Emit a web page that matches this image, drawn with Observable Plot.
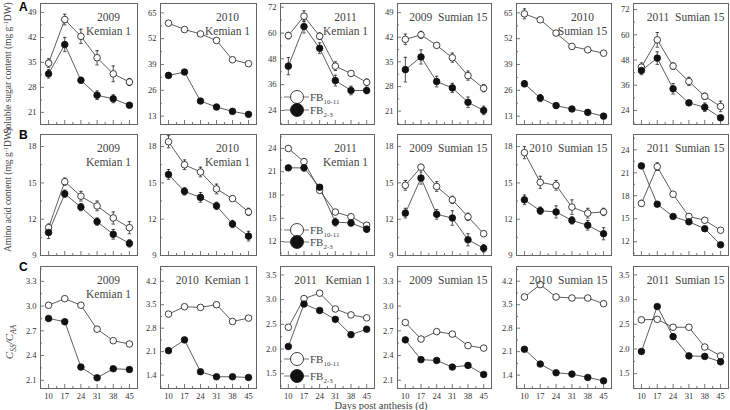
<!DOCTYPE html>
<html>
<head>
<meta charset="utf-8">
<script src="https://cdn.jsdelivr.net/npm/d3@7"></script>
<script src="https://cdn.jsdelivr.net/npm/@observablehq/plot@0.6"></script>
<style>
  html, body { margin: 0; padding: 0; background: #fff; }
  #chart { position: relative; width: 730px; height: 410px; overflow: hidden; background: #fff; }
</style>
</head>
<body>
<div id="chart"></div>
<script>
// ---------------- data ----------------
const days = [10, 17, 24, 31, 38, 45];

// A: soluble sugar content (mg g-1 DW)
const sugarFB1011 = [
  [34.8, 47.0, 42.3, 36.3, 31.8, 29.5],
  [59.8, 56.6, 54.4, 51.1, 41.4, 39.4],
  [58.8, 67.8, 58.5, 44.6, 41.2, 37.1],
  [41.4, 42.7, 39.7, 36.2, 31.1, 27.5],
  [64.5, 61.5, 54.8, 48.1, 46.4, 44.7],
  [44.6, 57.6, 45.1, 37.8, 30.7, 25.9]
];
const sugarFB23 = [
  [31.8, 40.0, 30.0, 25.8, 24.8, 23.0],
  [33.5, 35.2, 20.6, 17.6, 15.4, 13.9],
  [44.6, 63.0, 52.9, 37.9, 33.3, 33.3],
  [32.8, 36.4, 29.4, 27.6, 23.5, 21.2],
  [29.3, 22.1, 18.3, 16.6, 14.9, 13.0],
  [43.0, 48.9, 34.3, 27.6, 25.5, 20.5]
];
const sugarErr1011 = [
  [1.2, 1.5, 2.0, 2.0, 2.2, 1.0],
  [1.0, 0.8, 1.0, 1.0, 1.0, 1.0],
  [1.5, 2.5, 1.5, 2.0, 1.0, 1.5],
  [1.5, 1.0, 0.5, 1.3, 1.3, 1.0],
  [2.5, 1.0, 1.0, 0.8, 0.8, 0.8],
  [2.0, 3.5, 1.5, 2.0, 1.5, 2.5]
];
const sugarErr23 = [
  [1.2, 2.0, 0.8, 1.2, 1.1, 0.7],
  [1.3, 0.8, 1.0, 1.3, 0.8, 0.9],
  [4.0, 3.0, 2.5, 2.5, 2.0, 1.5],
  [3.5, 2.0, 1.5, 1.3, 1.5, 1.2],
  [1.5, 1.8, 1.3, 1.0, 1.0, 1.0],
  [2.0, 3.0, 2.5, 1.0, 2.0, 1.0]
];

// B: amino acid content (mg g-1 DW)
const aminoFB1011 = [
  [11.3, 15.1, 13.9, 13.1, 12.1, 11.3],
  [18.4, 16.5, 15.9, 14.5, 13.7, 12.6],
  [24.0, 22.3, 18.6, 15.8, 15.2, 14.1],
  [14.8, 16.3, 14.7, 13.6, 12.2, 10.8],
  [17.5, 15.05, 14.8, 13.0, 12.5, 12.6],
  [17.0, 21.8, 18.2, 15.3, 14.8, 13.5]
];
const aminoFB23 = [
  [10.9, 14.1, 13.0, 11.8, 10.75, 10.0],
  [15.7, 14.3, 13.8, 13.1, 11.6, 10.6],
  [21.5, 21.5, 19.0, 14.5, 14.4, 13.6],
  [12.5, 15.4, 12.4, 12.1, 10.3, 9.6],
  [13.6, 12.7, 12.6, 11.9, 11.5, 10.8],
  [21.9, 16.9, 15.3, 14.6, 13.7, 11.6]
];
const aminoErr1011 = [
  [0.3, 0.3, 0.4, 0.4, 0.5, 0.5],
  [0.5, 0.4, 0.4, 0.4, 0.2, 0.3],
  [0.3, 0.4, 0.3, 0.3, 0.3, 0.3],
  [0.4, 0.2, 0.4, 0.3, 0.3, 0.2],
  [0.5, 0.5, 0.4, 0.6, 0.4, 0.3],
  [0.4, 0.5, 0.2, 0.3, 0.3, 0.2]
];
const aminoErr23 = [
  [0.5, 0.3, 0.3, 0.3, 0.4, 0.3],
  [0.4, 0.3, 0.4, 0.3, 0.3, 0.4],
  [0.2, 0.4, 0.3, 0.5, 0.4, 0.4],
  [0.4, 0.5, 0.4, 0.6, 0.5, 0.3],
  [0.4, 0.3, 0.5, 0.3, 0.4, 0.5],
  [0.3, 0.3, 0.2, 0.3, 0.3, 0.2]
];

// C: Css/Caa ratio
const ratioFB1011 = [
  [3.01, 3.09, 3.01, 2.72, 2.58, 2.54],
  [3.22, 3.44, 3.42, 3.50, 3.00, 3.10],
  [2.44, 3.02, 3.13, 2.81, 2.69, 2.63],
  [2.80, 2.60, 2.69, 2.66, 2.52, 2.49],
  [3.73, 4.10, 3.73, 3.70, 3.70, 3.53],
  [2.59, 2.60, 2.44, 2.44, 2.04, 1.86]
];
const ratioFB23 = [
  [2.85, 2.81, 2.26, 2.13, 2.24, 2.23],
  [2.13, 2.45, 1.50, 1.35, 1.35, 1.33],
  [2.05, 2.91, 2.78, 2.60, 2.29, 2.40],
  [2.59, 2.35, 2.34, 2.26, 2.28, 2.17],
  [2.17, 1.73, 1.47, 1.43, 1.33, 1.23],
  [1.95, 2.86, 2.25, 1.86, 1.85, 1.74]
];

// axis tick labels
const yTicksA = [[21,28,35,42,49],[13,26,39,52,65],[24,36,48,60,72],[21,28,35,42,49],[13,26,39,52,65],[24,36,48,60,72]];
const yTicksB = [[9,12,15,18],[9,12,15,18],[12,15,18,21,24],[9,12,15,18],[9,12,15,18],[12,15,18,21,24]];
const yTicksC = [[2.1,2.4,2.7,3.0,3.3],[1.4,2.1,2.8,3.5,4.2],[1.5,2.0,2.5,3.0,3.5],[2.1,2.4,2.7,3.0,3.3],[1.4,2.1,2.8,3.5,4.2],[1.5,2.0,2.5,3.0,3.5]];

const titlesA = ["2009\nKemian 1","2010\nKemian 1","2011\nKemian 1","2009  Sumian 15","2010\nSumian 15","2011  Sumian 15"];
const titlesB = ["2009\nKemian 1","2010\nKemian 1","2011\nKemian 1","2009  Sumian 15","2010  Sumian 15","2011  Sumian 15"];
const titlesC = ["2009\nKemian 1","2010  Kemian 1","2011   Kemian 1","2009  Sumian 15","2010  Sumian 15","2011  Sumian 15"];

// ---------------- layout ----------------
const colX = [40, 160, 280, 397, 516, 633];
const colW = [97, 96, 94, 94, 95, 95];
const rowY = [3, 134, 266];
const rowH = [121, 121, 122];
const xDomain = [6.5, 48.5];
const yDomainsA = [[17.6,51.5],[8.8,69.7],[17.5,73.7],[17.2,51.6],[8.8,69.7],[17.3,74.9]];
const yDomainsB = [[9,19],[9,19],[10.2,25.8],[9,19],[9,19],[10.2,26]];
const yDomainsC = [[2.0,3.48],[1.0,4.64],[1.2,3.67],[2.0,3.48],[1.0,4.64],[1.2,3.67]];

const rows = [
  {open: sugarFB1011, filled: sugarFB23, eo: sugarErr1011, ef: sugarErr23, ticks: yTicksA, dom: yDomainsA, titles: titlesA, fmt: d3.format("d")},
  {open: aminoFB1011, filled: aminoFB23, eo: aminoErr1011, ef: aminoErr23, ticks: yTicksB, dom: yDomainsB, titles: titlesB, fmt: d3.format("d")},
  {open: ratioFB1011, filled: ratioFB23, eo: null, ef: null, ticks: yTicksC, dom: yDomainsC, titles: titlesC, fmt: d3.format(".1f")}
];

const container = document.getElementById("chart");
const serif = "'Liberation Serif', 'Times New Roman', serif";

function minorTicks(ticks, dom) {
  const step = ticks[1] - ticks[0];
  const out = [];
  for (let v = ticks[0] - step / 2; v <= dom[1]; v += step) if (v >= dom[0]) out.push(v);
  return out;
}
const xMinor = days.slice(0, -1).map(d => d + 3.5);

rows.forEach((R, r) => {
  for (let c = 0; c < 6; c++) {
    const fw = colW[c], fh = rowH[r];
    const ml = 30, mr = 4, mt = 4, mb = r === 2 ? 24 : 4;
    const openData = days.map((t, i) => ({t, v: R.open[c][i], e: R.eo ? R.eo[c][i] : 0}));
    const fillData = days.map((t, i) => ({t, v: R.filled[c][i], e: R.ef ? R.ef[c][i] : 0}));
    const title = R.titles[c];
    const two = title.includes("\n");
    const errMarks = (data) => R.eo ? [
      Plot.ruleX(data, {x: "t", y1: d => d.v - d.e, y2: d => d.v + d.e, stroke: "#222", strokeWidth: 0.8}),
      Plot.link(data, {x1: d => d.t - 0.75, x2: d => d.t + 0.75, y1: d => d.v + d.e, y2: d => d.v + d.e, stroke: "#222", strokeWidth: 0.8}),
      Plot.link(data, {x1: d => d.t - 0.75, x2: d => d.t + 0.75, y1: d => d.v - d.e, y2: d => d.v - d.e, stroke: "#222", strokeWidth: 0.8})
    ] : [];
    const plot = Plot.plot({
      width: fw + ml + mr,
      height: fh + mt + mb,
      marginLeft: ml, marginRight: mr, marginTop: mt, marginBottom: mb,
      style: {background: "transparent", overflow: "visible", fontFamily: serif, fontSize: "8.5px", color: "#333"},
      x: {domain: xDomain, ticks: days, tickSize: 0, tickPadding: 4, label: null, axis: r === 2 ? "bottom" : null},
      y: {domain: R.dom[c], ticks: R.ticks[c], tickSize: 0, tickPadding: 4, label: null, tickFormat: R.fmt},
      marks: [
        Plot.tickX(days, {x: d => d, insetTop: fh - 4, stroke: "#555", strokeWidth: 0.8}),
        Plot.tickX(xMinor, {x: d => d, insetTop: fh - 2, stroke: "#555", strokeWidth: 0.8}),
        Plot.tickY(R.ticks[c], {y: d => d, insetRight: fw - 4, stroke: "#555", strokeWidth: 0.8}),
        Plot.tickY(minorTicks(R.ticks[c], R.dom[c]), {y: d => d, insetRight: fw - 2, stroke: "#555", strokeWidth: 0.8}),
        Plot.frame({stroke: "#666", strokeWidth: 1}),
        ...errMarks(openData),
        ...errMarks(fillData),
        Plot.line(openData, {x: "t", y: "v", stroke: "#333", strokeWidth: 0.8}),
        Plot.line(fillData, {x: "t", y: "v", stroke: "#333", strokeWidth: 0.8}),
        Plot.dot(openData, {x: "t", y: "v", r: 3.3, fill: "white", stroke: "#111", strokeWidth: 0.8}),
        Plot.dot(fillData, {x: "t", y: "v", r: 3.3, fill: "#111", stroke: "#111", strokeWidth: 0.8}),
        Plot.text([title], {
          frameAnchor: "top-right",
          dx: two ? -29 : (r === 2 && c === 1 ? -7 : -4),
          dy: 8,
          textAnchor: two ? "middle" : "end",
          lineAnchor: "top",
          lineHeight: 1.18,
          fontSize: 11.5,
          fontFamily: serif,
          fontWeight: "normal",
          fill: "#444"
        })
      ]
    });
    plot.style.position = "absolute";
    plot.style.left = (colX[c] - ml) + "px";
    plot.style.top = (rowY[r] - mt) + "px";
    container.appendChild(plot);
  }
});

// ---------------- overlay: panel letters, axis titles, legends ----------------
const svg = d3.select(container).append("svg")
  .attr("width", 730).attr("height", 410)
  .style("position", "absolute").style("left", "0px").style("top", "0px")
  .style("overflow", "visible").style("pointer-events", "none")
  .style("font-family", serif);

[["A", 11], ["B", 139], ["C", 271]].forEach(([t, y]) => {
  svg.append("text").attr("x", 19).attr("y", y).text(t)
    .style("font-family", "'Liberation Sans', Arial, sans-serif").style("font-weight", "bold").style("font-size", "12px");
});

function yLabel(text, cy) {
  const t = svg.append("text").attr("transform", `translate(11,${cy}) rotate(-90)`)
    .attr("text-anchor", "middle").style("font-size", "9.5px").attr("fill", "#444");
  t.append("tspan").text(text + " (mg g");
  t.append("tspan").attr("dy", -3.5).style("font-size", "6.5px").text("-1");
  t.append("tspan").attr("dy", 3.5).text("DW)");
}
yLabel("Soluble sugar content", 68);
yLabel("Amino acid content", 190);

const lc = svg.append("text").attr("transform", "translate(13,342) rotate(-90)")
  .attr("text-anchor", "middle").style("font-size", "11px").style("font-style", "italic").attr("fill", "#444");
lc.append("tspan").text("C");
lc.append("tspan").attr("dy", 3).style("font-size", "7.5px").text("SS");
lc.append("tspan").attr("dy", -3).text("/C");
lc.append("tspan").attr("dy", 3).style("font-size", "7.5px").text("AA");

svg.append("text").attr("x", 381).attr("y", 409).attr("text-anchor", "middle")
  .style("font-size", "10.5px").attr("fill", "#444").text("Days post anthesis (d)");

// legends in the 2011 Kemian 1 panels
const legendOffsets = [[-27, -14], [-25, -13], [-29, -12]];
const legendItems = [{sub: "10-11", fill: "white"}, {sub: "2-3", fill: "#111"}];
rowY.forEach((y0, r) => {
  const fb = y0 + rowH[r];
  const fx = colX[2];
  legendItems.forEach((it, k) => {
    const cy = fb + legendOffsets[r][k];
    svg.append("line").attr("x1", fx + 4).attr("x2", fx + 29).attr("y1", cy).attr("y2", cy)
      .attr("stroke", "#555").attr("stroke-width", 0.8);
    svg.append("circle").attr("cx", fx + 17).attr("cy", cy).attr("r", 6.5)
      .attr("fill", it.fill).attr("stroke", "#111").attr("stroke-width", 0.8);
    const t = svg.append("text").attr("x", fx + 30).attr("y", cy + 4)
      .style("font-size", "11px").attr("fill", "#444");
    t.append("tspan").text("FB");
    t.append("tspan").attr("dy", 3).style("font-size", "7px").text(it.sub);
  });
});
</script>
</body>
</html>
